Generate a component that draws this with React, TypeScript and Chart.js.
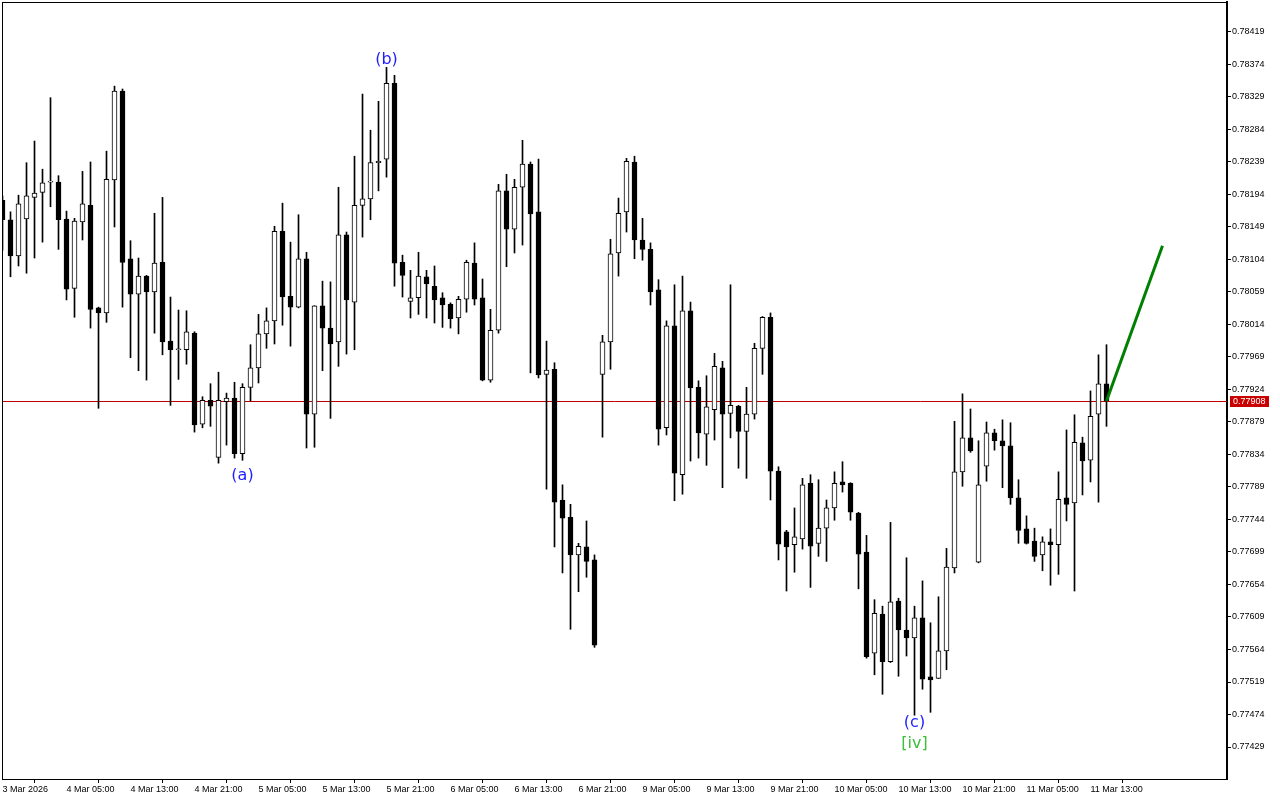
import React, { useEffect, useRef } from 'react';
import { Chart, registerables } from 'chart.js';

Chart.register(...registerables);

// H1 candles, 3 Mar 2026 21:00 -> 11 Mar 2026 15:00
const opens = [
  0.78186, 0.78159, 0.78109, 0.78160, 0.78190, 0.78197, 0.78211, 0.78211, 0.78160, 0.78064,
  0.78156, 0.78179, 0.78037, 0.78030, 0.78214, 0.78337, 0.78105, 0.78056, 0.78081, 0.78059,
  0.78100, 0.77991, 0.77979, 0.77979, 0.78002, 0.77876, 0.77909, 0.77830, 0.77907, 0.77912,
  0.77835, 0.77927, 0.77954, 0.78001, 0.78019, 0.78143, 0.78053, 0.78038, 0.78105, 0.77890,
  0.78040, 0.78009, 0.77990, 0.78138, 0.78045, 0.78179, 0.78188, 0.78238, 0.78243, 0.78348,
  0.78100, 0.78046, 0.78051, 0.78080, 0.78067, 0.78051, 0.78042, 0.78023, 0.78049, 0.78099,
  0.78051, 0.77937, 0.78006, 0.78199, 0.78146, 0.78204, 0.78236, 0.78170, 0.77945, 0.77952,
  0.77771, 0.77747, 0.77695, 0.77706, 0.77688, 0.77945, 0.77990, 0.78113, 0.78170, 0.78239,
  0.78131, 0.78118, 0.78062, 0.77871, 0.78012, 0.77806, 0.78033, 0.77927, 0.77862, 0.77896,
  0.77954, 0.77891, 0.77901, 0.77866, 0.77890, 0.77981, 0.78024, 0.77811, 0.77727, 0.77709,
  0.77717, 0.77794, 0.77711, 0.77732, 0.77760, 0.77796, 0.77794, 0.77753, 0.77699, 0.77559,
  0.77613, 0.77547, 0.77631, 0.77591, 0.77580, 0.77608, 0.77526, 0.77524, 0.77562, 0.77677,
  0.77810, 0.77857, 0.77685, 0.77818, 0.77864, 0.77853, 0.77846, 0.77774, 0.77731, 0.77714,
  0.77695, 0.77713, 0.77709, 0.77774, 0.77767, 0.77850, 0.77826, 0.77890, 0.77932,
];
const highs = [
  0.78192, 0.78170, 0.78193, 0.78238, 0.78268, 0.78229, 0.78328, 0.78220, 0.78171, 0.78161,
  0.78226, 0.78239, 0.78038, 0.78254, 0.78344, 0.78340, 0.78130, 0.78106, 0.78082, 0.78168,
  0.78190, 0.78052, 0.78034, 0.78033, 0.78004, 0.77914, 0.77932, 0.77948, 0.77919, 0.77934,
  0.77932, 0.77986, 0.78028, 0.78037, 0.78150, 0.78182, 0.78128, 0.78166, 0.78114, 0.78040,
  0.78074, 0.78073, 0.78204, 0.78142, 0.78247, 0.78333, 0.78283, 0.78323, 0.78370, 0.78359,
  0.78110, 0.78089, 0.78114, 0.78089, 0.78095, 0.78058, 0.78044, 0.78053, 0.78103, 0.78127,
  0.78077, 0.78035, 0.78208, 0.78222, 0.78215, 0.78269, 0.78239, 0.78243, 0.77991, 0.77961,
  0.77792, 0.77765, 0.77711, 0.77742, 0.77695, 0.77999, 0.78132, 0.78189, 0.78244, 0.78247,
  0.78161, 0.78127, 0.78076, 0.78019, 0.78069, 0.78081, 0.78045, 0.77936, 0.77943, 0.77974,
  0.77963, 0.78069, 0.77902, 0.77927, 0.77988, 0.78025, 0.78030, 0.77817, 0.77729, 0.77760,
  0.77801, 0.77806, 0.77799, 0.77771, 0.77810, 0.77824, 0.77795, 0.77754, 0.77722, 0.77633,
  0.77624, 0.77740, 0.77635, 0.77691, 0.77624, 0.77659, 0.77601, 0.77637, 0.77704, 0.77880,
  0.77918, 0.77897, 0.77853, 0.77879, 0.77869, 0.77882, 0.77878, 0.77799, 0.77749, 0.77732,
  0.77720, 0.77731, 0.77810, 0.77868, 0.77889, 0.77858, 0.77922, 0.77972, 0.77986,
];
const lows = [
  0.78117, 0.78080, 0.78095, 0.78085, 0.78106, 0.78128, 0.78177, 0.78118, 0.78048, 0.78024,
  0.78131, 0.78009, 0.77898, 0.78017, 0.78149, 0.78038, 0.77968, 0.77950, 0.77937, 0.78002,
  0.77972, 0.77902, 0.77938, 0.77959, 0.77865, 0.77871, 0.77873, 0.77822, 0.77847, 0.77829,
  0.77826, 0.77908, 0.77933, 0.77981, 0.77987, 0.78013, 0.77984, 0.78037, 0.77843, 0.77844,
  0.77950, 0.77884, 0.77956, 0.77973, 0.77979, 0.78135, 0.78159, 0.78199, 0.78218, 0.78067,
  0.78052, 0.78023, 0.78028, 0.78023, 0.78016, 0.78010, 0.78009, 0.78001, 0.78031, 0.78041,
  0.77936, 0.77934, 0.78002, 0.78094, 0.78113, 0.78124, 0.77947, 0.77940, 0.77786, 0.77706,
  0.77670, 0.77592, 0.77644, 0.77664, 0.77567, 0.77858, 0.77952, 0.78081, 0.78142, 0.78105,
  0.78103, 0.78041, 0.77847, 0.77861, 0.77770, 0.77779, 0.77825, 0.77829, 0.77819, 0.77854,
  0.77788, 0.77857, 0.77815, 0.77801, 0.77883, 0.77945, 0.77771, 0.77688, 0.77645, 0.77671,
  0.77703, 0.77650, 0.77693, 0.77686, 0.77743, 0.77782, 0.77743, 0.77648, 0.77552, 0.77529,
  0.77502, 0.77546, 0.77527, 0.77555, 0.77473, 0.77509, 0.77477, 0.77524, 0.77536, 0.77670,
  0.77790, 0.77837, 0.77684, 0.77797, 0.77840, 0.77788, 0.77765, 0.77711, 0.77710, 0.77686,
  0.77673, 0.77653, 0.77668, 0.77742, 0.77645, 0.77778, 0.77796, 0.77768, 0.77873,
];
const closes = [
  0.78159, 0.78109, 0.78181, 0.78192, 0.78196, 0.78210, 0.78211, 0.78159, 0.78063, 0.78157,
  0.78181, 0.78035, 0.78030, 0.78215, 0.78337, 0.78100, 0.78056, 0.78081, 0.78059, 0.78099,
  0.77990, 0.77979, 0.77979, 0.78004, 0.77875, 0.77909, 0.77901, 0.77909, 0.77912, 0.77835,
  0.77927, 0.77954, 0.78001, 0.78019, 0.78143, 0.78052, 0.78038, 0.78105, 0.77890, 0.78040,
  0.78009, 0.77987, 0.78138, 0.78048, 0.78179, 0.78188, 0.78238, 0.78240, 0.78348, 0.78099,
  0.78082, 0.78051, 0.78081, 0.78070, 0.78048, 0.78041, 0.78022, 0.78049, 0.78100, 0.78049,
  0.77937, 0.78006, 0.78199, 0.78146, 0.78204, 0.78236, 0.78167, 0.77944, 0.77951, 0.77768,
  0.77746, 0.77695, 0.77707, 0.77686, 0.77570, 0.77990, 0.78112, 0.78168, 0.78240, 0.78131,
  0.78118, 0.78059, 0.77869, 0.78012, 0.77808, 0.78033, 0.77926, 0.77864, 0.77900, 0.77956,
  0.77890, 0.77902, 0.77866, 0.77890, 0.77981, 0.78024, 0.77811, 0.77710, 0.77706, 0.77720,
  0.77792, 0.77707, 0.77732, 0.77760, 0.77794, 0.77792, 0.77754, 0.77696, 0.77554, 0.77614,
  0.77547, 0.77630, 0.77591, 0.77580, 0.77608, 0.77523, 0.77522, 0.77562, 0.77678, 0.77810,
  0.77857, 0.77839, 0.77792, 0.77864, 0.77853, 0.77846, 0.77774, 0.77729, 0.77711, 0.77693,
  0.77713, 0.77709, 0.77772, 0.77765, 0.77851, 0.77825, 0.77887, 0.77932, 0.77908,
];

const xTickIdx = [0, 8, 16, 24, 32, 40, 48, 56, 64, 72, 80, 88, 96, 104, 112, 120, 128, 136];
const xTickLabels = [
  '3 Mar 2026', '4 Mar 05:00', '4 Mar 13:00', '4 Mar 21:00', '5 Mar 05:00', '5 Mar 13:00',
  '5 Mar 21:00', '6 Mar 05:00', '6 Mar 13:00', '6 Mar 21:00', '9 Mar 05:00', '9 Mar 13:00',
  '9 Mar 21:00', '10 Mar 05:00', '10 Mar 13:00', '10 Mar 21:00', '11 Mar 05:00', '11 Mar 13:00',
];
const yTickValues = [
  0.78419, 0.78374, 0.78329, 0.78284, 0.78239, 0.78194, 0.78149, 0.78104, 0.78059, 0.78014,
  0.77969, 0.77924, 0.77879, 0.77834, 0.77789, 0.77744, 0.77699, 0.77654, 0.77609, 0.77564,
  0.77519, 0.77474, 0.77429,
];
const Y_MIN = 0.773847;
const Y_MAX = 0.784605;
const X_MIN = -0.0625;
const X_MAX = 153.0625;

const currentPrice = 0.77908;

const waveLabels = ['(a)', '(b)', '(c)', '[iv]'];
const waveIdx = [30, 48, 114, 114];
const wavePrice = [0.77804, 0.78381, 0.77462, 0.77434];
const waveColors = ['#1e1eff', '#1e1eff', '#1e1eff', '#3cc03c'];

const arrowIdx = [138, 145];
const arrowPrice = [0.77908, 0.78123];

const AXIS_FONT = { family: '"Liberation Sans", Arial, sans-serif', size: 9 };

const zeroPad = (s: any) => {
  s.paddingLeft = 0;
  s.paddingRight = 0;
  s.paddingTop = 0;
  s.paddingBottom = 0;
};

export default function App() {
  const canvasRef = useRef<HTMLCanvasElement | null>(null);

  useEffect(() => {
    const canvas = canvasRef.current;
    if (!canvas) return;
    const bull = closes.map((c, i) => c >= opens[i]);

    const overlay = {
      id: 'mtOverlay',
      beforeDatasetsDraw(chart: any) {
        const { ctx, chartArea, scales } = chart;
        const y = Math.round(scales.y.getPixelForValue(currentPrice)) + 0.5;
        ctx.save();
        ctx.strokeStyle = '#c00000';
        ctx.lineWidth = 1;
        ctx.beginPath();
        ctx.moveTo(chartArea.left, y);
        ctx.lineTo(chartArea.right, y);
        ctx.stroke();
        ctx.restore();
      },
      afterDatasetsDraw(chart: any) {
        const { ctx, scales } = chart;
        ctx.save();
        ctx.font = '16px "DejaVu Sans", sans-serif';
        ctx.textAlign = 'center';
        ctx.textBaseline = 'middle';
        waveLabels.forEach((t, i) => {
          ctx.fillStyle = waveColors[i];
          ctx.fillText(t, scales.x.getPixelForValue(waveIdx[i]), scales.y.getPixelForValue(wavePrice[i]));
        });
        ctx.restore();
      },
      afterDraw(chart: any) {
        const { ctx, chartArea, scales } = chart;
        ctx.save();
        ctx.strokeStyle = '#000';
        ctx.lineWidth = 1;
        ctx.strokeRect(chartArea.left + 0.5, chartArea.top + 0.5, chartArea.right - chartArea.left, chartArea.bottom - chartArea.top);
        const y = Math.round(scales.y.getPixelForValue(currentPrice));
        ctx.fillStyle = '#c80000';
        ctx.fillRect(chartArea.right + 3, y - 5, 39, 11);
        ctx.fillStyle = '#fff';
        ctx.font = '9px "Liberation Sans", Arial, sans-serif';
        ctx.textAlign = 'left';
        ctx.textBaseline = 'middle';
        ctx.fillText(currentPrice.toFixed(5), chartArea.right + 6, y + 0.5);
        ctx.restore();
      },
    };

    const chart = new Chart(canvas, {
      type: 'bar',
      data: {
        datasets: [
          {
            type: 'line',
            data: arrowIdx.map((x, i) => ({ x, y: arrowPrice[i] })),
            borderColor: '#008000',
            borderWidth: 3,
            pointRadius: 0,
            order: 0,
          } as any,
          {
            data: opens.map((o, i) => ({ x: i, y: [o, closes[i]] })),
            backgroundColor: (c: any) => (bull[c.dataIndex] ? '#ffffff' : '#000000'),
            borderColor: '#000000',
            borderWidth: 1,
            borderSkipped: false,
            barThickness: 5,
            minBarLength: 1,
            grouped: false,
            order: 1,
          } as any,
          {
            data: highs.map((h, i) => ({ x: i, y: [lows[i], h] })),
            backgroundColor: '#000000',
            borderWidth: 0,
            barThickness: 1,
            grouped: false,
            order: 2,
          } as any,
        ],
      },
      options: {
        animation: false,
        responsive: true,
        maintainAspectRatio: false,
        layout: { padding: { left: 2, top: 2, right: 0, bottom: 0 } },
        plugins: { legend: { display: false }, tooltip: { enabled: false } },
        scales: {
          x: {
            type: 'linear',
            min: X_MIN,
            max: X_MAX,
            offset: false,
            afterBuildTicks: (s: any) => {
              s.ticks = xTickIdx.map((v) => ({ value: v }));
            },
            afterFit: (s: any) => {
              s.height = 21;
              zeroPad(s);
            },
            grid: { drawOnChartArea: false, drawTicks: true, tickLength: 4, color: '#000' },
            border: { display: true, color: '#000' },
            ticks: {
              autoSkip: false,
              maxRotation: 0,
              minRotation: 0,
              align: 'start',
              padding: 1,
              color: '#000',
              font: AXIS_FONT,
              callback: (_v: any, i: number) => xTickLabels[i],
            },
          },
          y: {
            type: 'linear',
            position: 'right',
            min: Y_MIN,
            max: Y_MAX,
            afterBuildTicks: (s: any) => {
              s.ticks = yTickValues.map((v) => ({ value: v }));
            },
            afterFit: (s: any) => {
              s.width = 53;
              zeroPad(s);
            },
            grid: { drawOnChartArea: false, drawTicks: true, tickLength: 4, color: '#000' },
            border: { display: true, color: '#000', width: 2 },
            ticks: {
              padding: 1,
              color: '#000',
              font: AXIS_FONT,
              callback: (v: any) => Number(v).toFixed(5),
            },
          },
        },
      } as any,
      plugins: [overlay],
    });
    return () => chart.destroy();
  }, []);

  return (
    <div style={{ position: 'fixed', left: 0, top: 0, width: 1280, height: 800, background: '#fff' }}>
      <canvas ref={canvasRef} />
    </div>
  );
}
